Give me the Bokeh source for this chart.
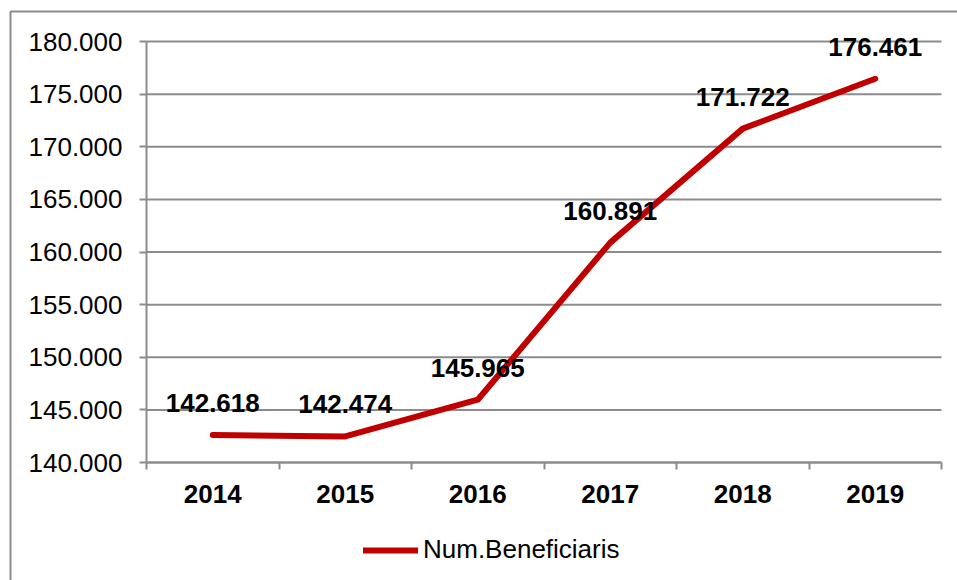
from bokeh.plotting import figure
from bokeh.models import (ColumnDataSource, FixedTicker, LabelSet, Legend, LegendItem,
                          Range1d, BoxAnnotation)
from bokeh.core.properties import value
from bokeh.embed import file_html
from bokeh.resources import INLINE

years = ["2014", "2015", "2016", "2017", "2018", "2019"]
beneficiaris = [142618, 142474, 145965, 160891, 171722, 176461]
value_labels = ["142.618", "142.474", "145.965", "160.891", "171.722", "176.461"]
y_ticks = [140000, 145000, 150000, 155000, 160000, 165000, 170000, 175000, 180000]
y_tick_labels = ["140.000", "145.000", "150.000", "155.000", "160.000", "165.000", "170.000", "175.000", "180.000"]
series_name = "Num.Beneficiaris"

FONT = "Liberation Sans"
GRAY = "#8c8c8c"
RED = "#c00000"

# layout (pixels on the 957x580 canvas)
W, H = 957, 580
AX_LEFT, AX_RIGHT = 146, 941      # x span of the plot area
AX_TOP, AX_BOTTOM = 41, 462       # y of max / min tick
YMIN, YMAX = y_ticks[0], y_ticks[-1]
ncat = len(years)
px_per_cat = (AX_RIGHT - AX_LEFT) / ncat
units_per_px = (YMAX - YMIN) / (AX_BOTTOM - AX_TOP)
x_start = -AX_LEFT / px_per_cat
x_end = (W - AX_LEFT) / px_per_cat
y_end = YMAX + AX_TOP * units_per_px
y_start = YMIN - (H - AX_BOTTOM) * units_per_px

xpos = [i + 0.5 for i in range(ncat)]
src = ColumnDataSource(dict(x=xpos, y=beneficiaris, lbl=value_labels))

p = figure(width=W, height=H, output_backend="svg", toolbar_location=None,
           x_range=Range1d(x_start, x_end), y_range=Range1d(y_start, y_end),
           min_border=0)
p.outline_line_color = None
p.background_fill_color = "white"
p.border_fill_color = "white"
for g in p.grid:
    g.visible = False

# outer chart border (left and top visible)
p.add_layout(BoxAnnotation(left=x_start + 10 / px_per_cat, right=x_end + 1,
                           top=y_end - 11 * units_per_px, bottom=y_start - 10000,
                           fill_alpha=0, line_color=GRAY, line_alpha=1, line_width=2))

# horizontal gridlines
p.segment(x0=0, x1=ncat, y0=y_ticks, y1=y_ticks, line_color=GRAY, line_width=2)

r = p.line("x", "y", source=src, line_color=RED, line_width=6, line_cap="round", line_join="round")

# y axis
p.yaxis.fixed_location = 0
p.yaxis.bounds = (YMIN, YMAX)
p.yaxis.ticker = FixedTicker(ticks=y_ticks)
p.yaxis.major_label_overrides = {t: l for t, l in zip(y_ticks, y_tick_labels)}
p.yaxis.axis_line_color = GRAY
p.yaxis.axis_line_width = 2
p.yaxis.major_tick_line_color = GRAY
p.yaxis.major_tick_line_width = 2
p.yaxis.major_tick_out = 7
p.yaxis.major_tick_in = 0
p.yaxis.minor_tick_line_color = None
p.yaxis.major_label_text_font = FONT
p.yaxis.major_label_text_font_size = "26px"
p.yaxis.major_label_text_color = "black"
p.yaxis.major_label_standoff = 17

# x axis
p.xaxis.fixed_location = YMIN
p.xaxis.bounds = (0, ncat)
p.xaxis.ticker = FixedTicker(ticks=xpos, minor_ticks=list(range(ncat + 1)))
p.xaxis.major_label_overrides = {x: y for x, y in zip(xpos, years)}
p.xaxis.axis_line_color = GRAY
p.xaxis.axis_line_width = 2
p.xaxis.major_tick_line_color = None
p.xaxis.major_tick_out = 0
p.xaxis.major_tick_in = 0
p.xaxis.minor_tick_line_color = GRAY
p.xaxis.minor_tick_line_width = 2
p.xaxis.minor_tick_out = 7
p.xaxis.minor_tick_in = 0
p.xaxis.major_label_text_font = FONT
p.xaxis.major_label_text_font_size = "26px"
p.xaxis.major_label_text_font_style = "bold"
p.xaxis.major_label_text_color = "black"
p.xaxis.major_label_standoff = 15

labels = LabelSet(x="x", y="y", text="lbl", source=src, y_offset=32,
                  text_align="center", text_baseline="middle",
                  text_font=value(FONT), text_font_size=value("26px"),
                  text_font_style=value("bold"), text_color=value("black"))
p.add_layout(labels)

legend = Legend(items=[LegendItem(label=series_name, renderers=[r])],
                location=(363, 15), orientation="horizontal",
                padding=0, margin=0, spacing=0,
                glyph_width=55, glyph_height=20, label_standoff=5,
                label_text_font=FONT, label_text_font_size="26px", label_text_color="black",
                border_line_color=None, background_fill_alpha=0)
p.add_layout(legend, "center")

open("out.html", "w").write(file_html(p, INLINE))
